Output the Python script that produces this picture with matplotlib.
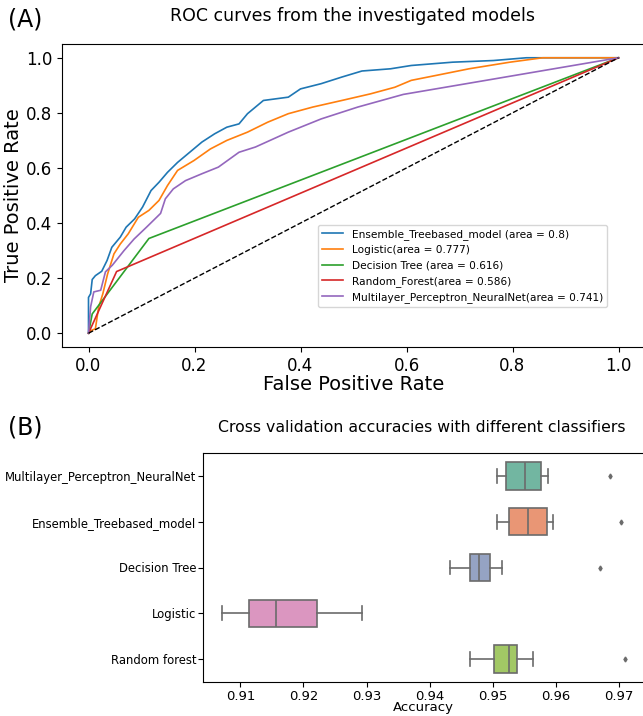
import matplotlib
matplotlib.use('Agg')
import matplotlib.pyplot as plt
import seaborn as sns

# ROC curve points (fpr, tpr)
ens_fpr = [0.0, 0.0, 0.004, 0.007, 0.013, 0.025, 0.035, 0.044, 0.060, 0.071, 0.087, 0.102, 0.118, 0.133,
           0.149, 0.168, 0.191, 0.214, 0.238, 0.261, 0.284, 0.300, 0.330, 0.377, 0.400, 0.439, 0.478,
           0.516, 0.570, 0.609, 0.687, 0.764, 0.826, 1.0]
ens_tpr = [0.0, 0.13, 0.143, 0.195, 0.209, 0.225, 0.264, 0.312, 0.349, 0.385, 0.415, 0.458, 0.518, 0.548,
           0.584, 0.620, 0.657, 0.694, 0.724, 0.748, 0.760, 0.797, 0.845, 0.857, 0.887, 0.906, 0.930,
           0.952, 0.960, 0.972, 0.984, 0.990, 1.0, 1.0]

log_fpr = [0.0, 0.005, 0.013, 0.019, 0.027, 0.036, 0.048, 0.060, 0.075, 0.094, 0.114, 0.133, 0.149,
           0.168, 0.199, 0.230, 0.261, 0.300, 0.338, 0.377, 0.423, 0.478, 0.532, 0.578, 0.609, 0.656,
           0.718, 0.795, 0.857, 1.0]
log_tpr = [0.0, 0.010, 0.016, 0.094, 0.143, 0.215, 0.288, 0.324, 0.361, 0.421, 0.446, 0.482, 0.536,
           0.591, 0.627, 0.669, 0.700, 0.730, 0.766, 0.797, 0.821, 0.845, 0.869, 0.893, 0.918, 0.936,
           0.960, 0.984, 1.0, 1.0]

dt_fpr = [0.0, 0.007, 0.114, 1.0]
dt_tpr = [0.0, 0.070, 0.344, 1.0]

rf_fpr = [0.0, 0.053, 1.0]
rf_tpr = [0.0, 0.224, 1.0]

mlp_fpr = [0.0, 0.004, 0.010, 0.023, 0.032, 0.045, 0.067, 0.086, 0.110, 0.136, 0.145, 0.160, 0.183,
           0.214, 0.245, 0.284, 0.315, 0.377, 0.439, 0.508, 0.594, 1.0]
mlp_tpr = [0.0, 0.096, 0.150, 0.156, 0.223, 0.247, 0.300, 0.342, 0.386, 0.435, 0.488, 0.524, 0.554,
           0.579, 0.603, 0.657, 0.676, 0.730, 0.778, 0.821, 0.867, 1.0]

roc_labels = ['Ensemble_Treebased_model (area = 0.8)', 'Logistic(area = 0.777)',
              'Decision Tree (area = 0.616)', 'Random_Forest(area = 0.586)',
              'Multilayer_Perceptron_NeuralNet(area = 0.741)']

# cross validation accuracy box statistics
classifiers = ['Multilayer_Perceptron_NeuralNet', 'Ensemble_Treebased_model', 'Decision Tree',
               'Logistic', 'Random forest']
whis_lo = [0.9506, 0.9506, 0.9432, 0.9071, 0.9464]
q1 = [0.9521, 0.9526, 0.9464, 0.9114, 0.9502]
med = [0.9551, 0.9555, 0.9478, 0.9157, 0.9525]
q3 = [0.9577, 0.9586, 0.9495, 0.9221, 0.9538]
whis_hi = [0.9588, 0.9595, 0.9514, 0.9292, 0.9563]
outliers = [[0.9686], [0.9703], [0.9669], [], [0.9710]]

W, H = 643, 716
fig = plt.figure(figsize=(W / 100, H / 100), dpi=100)

# ---- (A) ROC curves
ax1 = fig.add_axes([62 / W, 1 - 347 / H, 583 / W, 303 / H])
curves = [(ens_fpr, ens_tpr), (log_fpr, log_tpr), (dt_fpr, dt_tpr), (rf_fpr, rf_tpr), (mlp_fpr, mlp_tpr)]
for (x, y), lab in zip(curves, roc_labels):
    ax1.plot(x, y, lw=1.2, label=lab)
ax1.plot([0, 1], [0, 1], 'k--', lw=1.0)
ax1.set_xlim(-0.05, 1.05)
ax1.set_ylim(-0.05, 1.05)
ax1.tick_params(labelsize=12)
ax1.set_xlabel('False Positive Rate', fontsize=14, labelpad=0)
ax1.set_ylabel('True Positive Rate', fontsize=14, labelpad=2)
ax1.legend(loc='lower right', bbox_to_anchor=(0.935, 0.132), borderaxespad=0, fontsize=7.6)
fig.text(352 / W, 1 - 16 / H, 'ROC curves from the investigated models', fontsize=12.5,
         ha='center', va='center')
fig.text(25 / W, 1 - 20 / H, '(A)', fontsize=17, ha='center', va='center')

# ---- (B) cross validation boxplot
ax2 = fig.add_axes([202.5 / W, 1 - 682 / H, 442.5 / W, 229 / H])
stats = []
for i, name in enumerate(classifiers):
    stats.append(dict(label=name, whislo=whis_lo[i], q1=q1[i], med=med[i], q3=q3[i],
                      whishi=whis_hi[i], fliers=outliers[i]))
colors = sns.color_palette('Set2', 5, desat=0.75)
gray = '#6b6b6b'
bp = ax2.bxp(stats, positions=range(5), widths=0.6, capwidths=0.3, orientation='horizontal',
             patch_artist=True,
             boxprops=dict(edgecolor=gray, linewidth=1.2),
             medianprops=dict(color=gray, linewidth=1.2),
             whiskerprops=dict(color=gray, linewidth=1.2),
             capprops=dict(color=gray, linewidth=1.2),
             flierprops=dict(marker='d', markersize=2.5, markerfacecolor=gray, markeredgecolor=gray))
for patch, c in zip(bp['boxes'], colors):
    patch.set_facecolor(c)
ax2.set_ylim(4.5, -0.5)
ax2.set_xlim(0.9040, 0.9741)
ax2.set_xticks([0.91, 0.92, 0.93, 0.94, 0.95, 0.96, 0.97])
ax2.tick_params(axis='x', labelsize=9.5, pad=2)
ax2.tick_params(axis='y', labelsize=8.4, pad=1)
ax2.set_xlabel('Accuracy', fontsize=9.5, labelpad=-1)
fig.text(422 / W, 1 - 427 / H, 'Cross validation accuracies with different classifiers',
         fontsize=11.3, ha='center', va='center')
fig.text(25 / W, 1 - 428 / H, '(B)', fontsize=17, ha='center', va='center')

fig.savefig('out.png', dpi=100)
